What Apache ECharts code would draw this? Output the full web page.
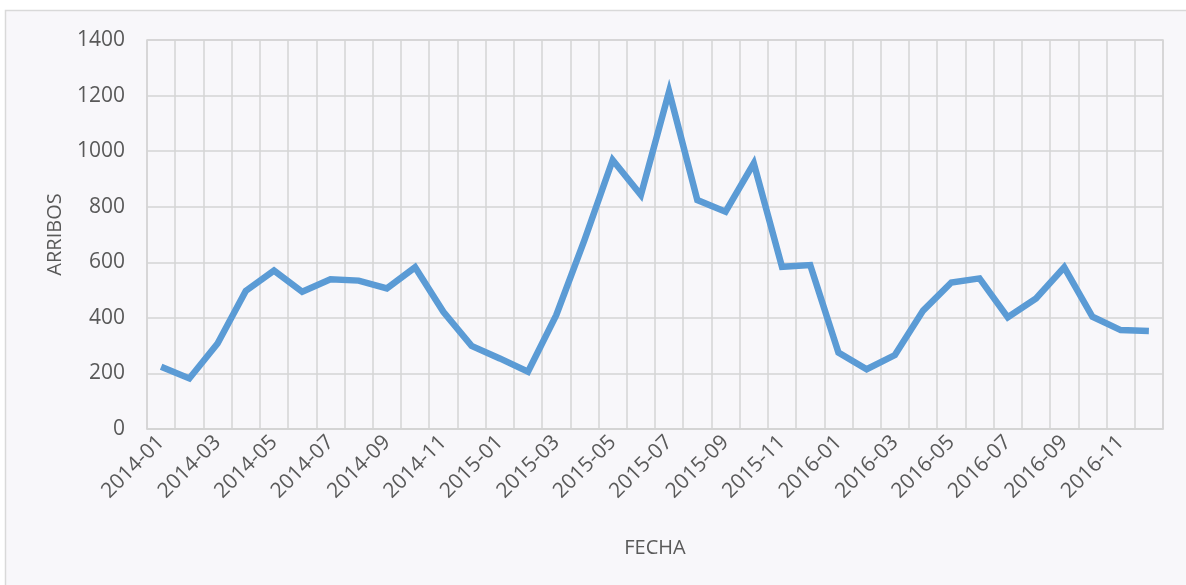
<!DOCTYPE html>
<html>
<head>
<meta charset="utf-8">
<script src="https://cdn.jsdelivr.net/npm/echarts@6/dist/echarts.min.js"></script>
<style>
html,body{margin:0;padding:0;background:#ffffff;}
#chart{width:1186px;height:585px;}
</style>
</head>
<body>
<div id="chart"></div>
<script>
var categories = ["2014-01","2014-02","2014-03","2014-04","2014-05","2014-06","2014-07","2014-08","2014-09","2014-10","2014-11","2014-12",
"2015-01","2015-02","2015-03","2015-04","2015-05","2015-06","2015-07","2015-08","2015-09","2015-10","2015-11","2015-12",
"2016-01","2016-02","2016-03","2016-04","2016-05","2016-06","2016-07","2016-08","2016-09","2016-10","2016-11","2016-12"];
var arribos = [224,182,308,497,570,494,539,534,506,582,422,299,
254,206,410,680,968,842,1215,824,782,956,584,590,
275,215,266,426,527,542,402,470,582,404,356,353];
var yTicks = {min:0, max:1400, interval:200};

var chart = echarts.init(document.getElementById('chart'));
var font = '"Open Sans", "DejaVu Sans", sans-serif';
chart.setOption({
  backgroundColor:'#ffffff',
  animation:false,
  graphic:[{
    type:'rect', z:-10, silent:true,
    shape:{x:5.5, y:10.5, width:1300, height:700},
    style:{fill:'#f8f7fa', stroke:'#d9d9d9', lineWidth:1.5}
  }],
  grid:{left:147, top:40, right:23, bottom:156, show:true, borderColor:'#d4d4d4', borderWidth:1.5, backgroundColor:'transparent'},
  xAxis:{
    type:'category', data:categories, boundaryGap:true,
    name:'FECHA', nameLocation:'middle', nameGap:109,
    nameTextStyle:{color:'#595959', fontSize:20, fontFamily:font},
    axisLine:{show:true, lineStyle:{color:'#d4d4d4', width:1.5}},
    axisTick:{show:false},
    axisLabel:{interval:1, rotate:45, margin:10, color:'#595959', fontSize:21, fontFamily:font},
    splitLine:{show:true, interval:0, lineStyle:{color:'#d4d4d4', width:1.5}}
  },
  yAxis:{
    type:'value', min:yTicks.min, max:yTicks.max, interval:yTicks.interval,
    name:'ARRIBOS', nameLocation:'middle', nameGap:82, nameRotate:90,
    nameTextStyle:{color:'#595959', fontSize:20, fontFamily:font},
    axisLine:{show:false}, axisTick:{show:false},
    axisLabel:{margin:22, color:'#595959', fontSize:21, fontFamily:font, formatter:function(v){return String(v);}},
    splitLine:{show:true, lineStyle:{color:'#d4d4d4', width:1.5}}
  },
  series:[{
    type:'line', data:arribos, showSymbol:false, symbol:'none',
    lineStyle:{color:'#5b9bd5', width:6.5, join:'miter', cap:'butt'}
  }]
});
</script>
</body>
</html>
